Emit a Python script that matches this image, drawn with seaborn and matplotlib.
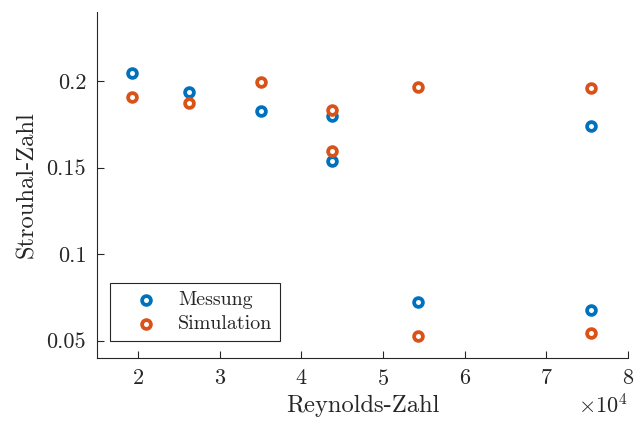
import numpy as np
import pandas as pd
import matplotlib
matplotlib.use("Agg")
import matplotlib.pyplot as plt
import seaborn as sns
from matplotlib.ticker import ScalarFormatter

# Data
re_mess = [19300, 26300, 35100, 43800, 43800, 54300, 75500, 75500]
st_mess = [0.2046, 0.1937, 0.1829, 0.1798, 0.1535, 0.0723, 0.1742, 0.0675]
re_sim = [19300, 26300, 35100, 43800, 43800, 54300, 54300, 75500, 75500]
st_sim = [0.1908, 0.1873, 0.1992, 0.1831, 0.1594, 0.1965, 0.0527, 0.1960, 0.0542]
series_names = ["Messung", "Simulation"]
colors = ["#0072BD", "#D95319"]
yticks = [0.05, 0.1, 0.15, 0.2]
ytick_labels = ["0.05", "0.1", "0.15", "0.2"]
xticks = [20000, 30000, 40000, 50000, 60000, 70000, 80000]

df = pd.DataFrame({
    "Re": re_mess + re_sim,
    "St": st_mess + st_sim,
    "Serie": [series_names[0]] * len(re_mess) + [series_names[1]] * len(re_sim),
})

sns.set_style("white")
plt.rcParams["font.family"] = ["cmr10", "DejaVu Serif"]
plt.rcParams["mathtext.fontset"] = "cm"
plt.rcParams["axes.formatter.use_mathtext"] = True
plt.rcParams["axes.unicode_minus"] = False

fig = plt.figure(figsize=(6.44, 4.23), dpi=100)
ax = fig.add_axes([0.151, 0.154, 0.824, 0.818])

for name, c in zip(series_names, colors):
    sub = df[df["Serie"] == name]
    sns.scatterplot(data=sub, x="Re", y="St", ax=ax, marker="o", s=40,
                    color=c, label=name, zorder=3)

for coll, c in zip(ax.collections, colors):
    coll.set_facecolor("white")
    coll.set_edgecolor(c)
    coll.set_linewidth(2.7)

ax.set_xlim(15000, 80000)
ax.set_ylim(0.04, 0.24)
ax.set_xticks(xticks)
ax.set_yticks(yticks)
ax.set_yticklabels(ytick_labels)
fmt = ScalarFormatter(useMathText=True)
fmt.set_powerlimits((0, 0))
ax.xaxis.set_major_formatter(fmt)

for s in ["top", "right"]:
    ax.spines[s].set_visible(False)
for s in ["left", "bottom"]:
    ax.spines[s].set_color("#262626")
    ax.spines[s].set_linewidth(0.8)

ax.tick_params(axis="both", direction="in", length=5, width=0.8,
               colors="#262626", labelsize=16, pad=8,
               bottom=True, left=True, top=False, right=False)
ax.xaxis.get_offset_text().set_fontsize(16)
ax.xaxis.get_offset_text().set_color("#262626")

ax.set_xlabel("Reynolds-Zahl", fontsize=17.6, color="#262626", labelpad=4)
ax.set_ylabel("Strouhal-Zahl", fontsize=17.6, color="#262626", labelpad=6)

leg = ax.legend(loc="lower left", bbox_to_anchor=(0.0245, 0.049), fontsize=14.4,
                borderaxespad=0, frameon=True, fancybox=False, framealpha=1,
                edgecolor="#262626", handlelength=2.8, handletextpad=0.2,
                borderpad=0.4, labelspacing=0.3)
leg.get_frame().set_linewidth(0.8)

fig.savefig("out.png", dpi=100)
